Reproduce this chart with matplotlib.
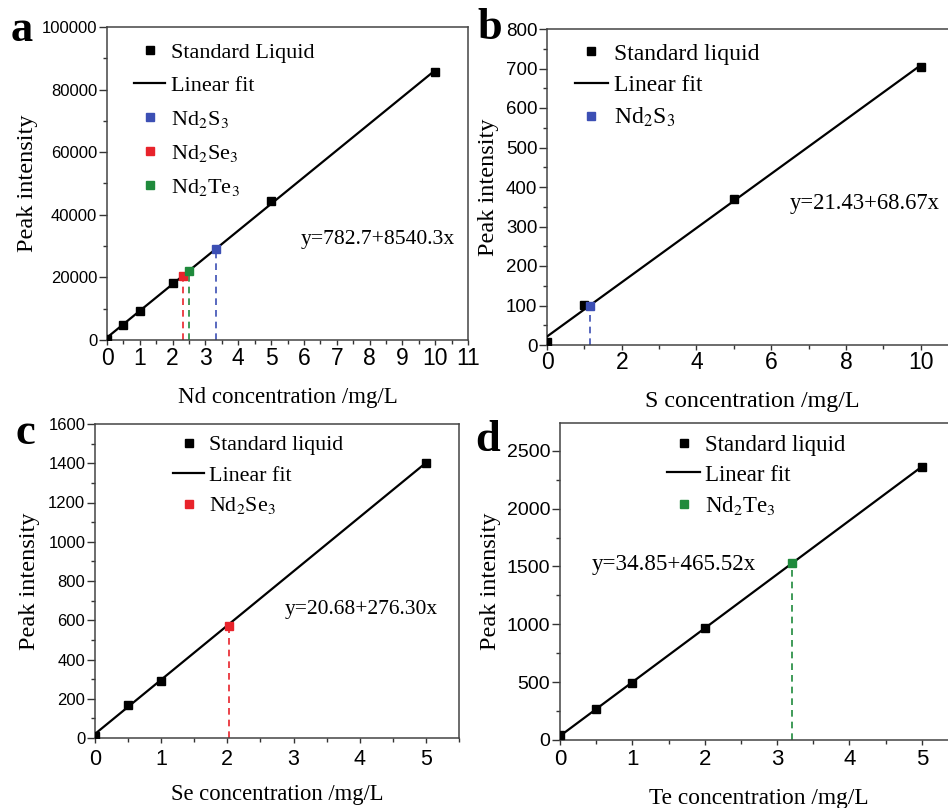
import matplotlib
matplotlib.use("Agg")
import matplotlib.pyplot as plt
from matplotlib.ticker import MultipleLocator

plt.rcParams["font.family"] = "serif"
plt.rcParams["font.serif"] = ["Liberation Serif", "DejaVu Serif"]
plt.rcParams["mathtext.fontset"] = "stix"

# Calibration data: (a) Nd, (b) S, (c) Se, (d) Te
nd_std_x = [0, 0.5, 1, 2, 5, 10]
nd_std_y = [300, 4790, 9260, 18210, 44400, 85620]
nd_fit = (782.7, 8540.3)
nd_samples_x = [3.32, 2.31, 2.51]
nd_samples_y = [29070, 20450, 22040]

s_std_x = [0, 1, 5, 10]
s_std_y = [8, 101, 370, 704]
s_fit = (21.43, 68.67)
s_sample_x = [1.14]
s_sample_y = [99]

se_std_x = [0, 0.5, 1, 5]
se_std_y = [10, 168, 292, 1402]
se_fit = (20.68, 276.30)
se_sample_x = [2.02]
se_sample_y = [572]

te_std_x = [0, 0.5, 1, 2, 5]
te_std_y = [43, 265, 490, 966, 2364]
te_fit = (34.85, 465.52)
te_sample_x = [3.21]
te_sample_y = [1528]

BLUE = "#3c4fb4"
RED = "#e8232b"
GREEN = "#1f8a3c"
LBL_S = r"Nd$_2$S$_3$"
LBL_SE = r"Nd$_2$Se$_3$"
LBL_TE = r"Nd$_2$Te$_3$"

W, H = 948, 808
fig = plt.figure(figsize=(W / 100, H / 100), dpi=100)


def px_axes(left, top, right, bottom):
    return fig.add_axes([left / W, 1 - bottom / H, (right - left) / W, (bottom - top) / H])


def style_axes(ax, xmaj, xmin, ymaj, ymin, xsize, ysize, xpad):
    ax.xaxis.set_major_locator(MultipleLocator(xmaj))
    ax.xaxis.set_minor_locator(MultipleLocator(xmin))
    ax.yaxis.set_major_locator(MultipleLocator(ymaj))
    ax.yaxis.set_minor_locator(MultipleLocator(ymin))
    ax.tick_params(which="both", direction="out", top=False, right=False,
                   color="#333333", width=1.0, labelfontfamily="Liberation Sans")
    ax.tick_params(axis="x", which="major", length=3.6, pad=xpad, labelsize=xsize)
    ax.tick_params(axis="x", which="minor", length=3)
    ax.tick_params(axis="y", which="major", length=6, pad=1, labelsize=ysize)
    ax.tick_params(axis="y", which="minor", length=3)
    for sp in ax.spines.values():
        sp.set_color("#444444")
        sp.set_linewidth(1.1)


def draw_panel(ax, std_x, std_y, fit, xmax_fit, samples, legend_anchor, spacing, fsize):
    b0, b1 = fit
    ax.plot(std_x, std_y, "s", color="black", ms=5.5, ls="none",
            label="Standard liquid", zorder=4)
    ax.plot([0, xmax_fit], [b0, b0 + b1 * xmax_fit], "-", color="black",
            lw=1.6, label="Linear fit", zorder=3)
    for sx, sy, color, label in samples:
        ax.plot([sx, sx], [0, sy], ls=(0, (4, 3)), color=color, lw=1.2, zorder=2)
        ax.plot([sx], [sy], "s", color=color, ms=5.5, ls="none", label=label, zorder=5)
    leg = ax.legend(loc="upper left", bbox_to_anchor=legend_anchor, frameon=False,
                    fontsize=fsize, handlelength=1.4, handletextpad=0.25,
                    labelspacing=spacing, borderaxespad=0, borderpad=0)
    return leg


# (a) Nd
ax_a = px_axes(107, 27, 468, 340)
ax_a.set_xlim(0, 11)
ax_a.set_ylim(0, 100000)
style_axes(ax_a, 1, 0.5, 20000, 10000, 16.5, 12, 1.5)
leg = draw_panel(ax_a, nd_std_x, nd_std_y, nd_fit, 10,
                 [(nd_samples_x[0], nd_samples_y[0], BLUE, LBL_S),
                  (nd_samples_x[1], nd_samples_y[1], RED, LBL_SE),
                  (nd_samples_x[2], nd_samples_y[2], GREEN, LBL_TE)],
                 (0.075, 0.952), 0.58, 16)
leg.get_texts()[0].set_text("Standard Liquid")
ax_a.text(5.9, 31950, "y=782.7+8540.3x", fontsize=15.6, va="center")
ax_a.set_ylabel("Peak intensity", fontsize=17.5)
ax_a.yaxis.set_label_coords(-0.19, 0.5)
ax_a.set_xlabel("Nd concentration /mg/L", fontsize=16.5)
ax_a.xaxis.set_label_coords(0.5, -0.151)

# (b) S
ax_b = px_axes(547, 29, 958, 345)
ax_b.set_xlim(0, 11)
ax_b.set_ylim(0, 800)
style_axes(ax_b, 2, 1, 100, 50, 16.5, 13.5, 1)
draw_panel(ax_b, s_std_x, s_std_y, s_fit, 10,
           [(s_sample_x[0], s_sample_y[0], BLUE, LBL_S)],
           (0.068, 0.955), 0.42, 17)
ax_b.text(6.5, 359, "y=21.43+68.67x", fontsize=16.3, va="center")
ax_b.set_ylabel("Peak intensity", fontsize=17.5)
ax_b.yaxis.set_label_coords(-0.118, 0.5)
ax_b.set_xlabel("S concentration /mg/L", fontsize=17.3)
ax_b.xaxis.set_label_coords(0.5, -0.145)

# (c) Se
ax_c = px_axes(95, 424, 459, 738)
ax_c.set_xlim(0, 5.5)
ax_c.set_ylim(0, 1600)
style_axes(ax_c, 1, 0.5, 200, 100, 15.5, 12, 4.5)
draw_panel(ax_c, se_std_x, se_std_y, se_fit, 5,
           [(se_sample_x[0], se_sample_y[0], RED, LBL_SE)],
           (0.215, 0.965), 0.45, 15.8)
ax_c.text(2.87, 657, "y=20.68+276.30x", fontsize=15.5, va="center")
ax_c.set_ylabel("Peak intensity", fontsize=17.5)
ax_c.yaxis.set_label_coords(-0.15, 0.5)
ax_c.set_xlabel("Se concentration /mg/L", fontsize=16.3)
ax_c.xaxis.set_label_coords(0.5, -0.147)

# (d) Te
ax_d = px_axes(560, 423, 958, 740)
ax_d.set_xlim(0, 5.5)
ax_d.set_ylim(0, 2740)
style_axes(ax_d, 1, 0.5, 500, 250, 16, 14, 3)
draw_panel(ax_d, te_std_x, te_std_y, te_fit, 5,
           [(te_sample_x[0], te_sample_y[0], GREEN, LBL_TE)],
           (0.27, 0.963), 0.38, 16.5)
ax_d.text(0.44, 1514, "y=34.85+465.52x", fontsize=16.6, va="center")
ax_d.set_ylabel("Peak intensity", fontsize=17.5)
ax_d.yaxis.set_label_coords(-0.147, 0.5)
ax_d.set_xlabel("Te concentration /mg/L", fontsize=16.8)
ax_d.xaxis.set_label_coords(0.5, -0.152)

# panel letters
for letter, (x, y) in zip("abcd", [(22, 30), (490, 28), (25, 433), (488, 440)]):
    fig.text(x / W, 1 - y / H, letter, fontsize=32, fontweight="bold",
             ha="center", va="center")

fig.savefig("out.png", dpi=100)
